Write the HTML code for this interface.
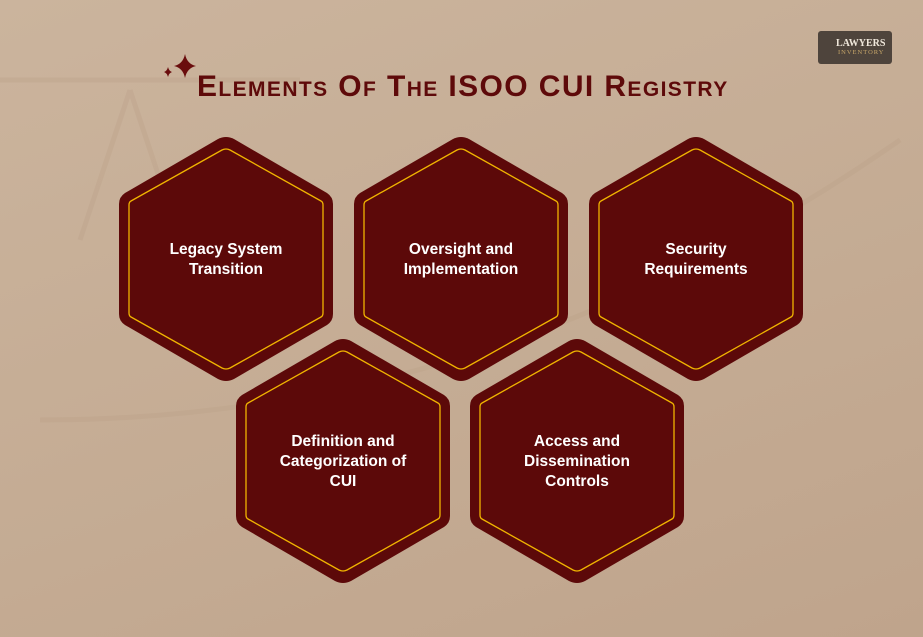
<!DOCTYPE html>
<html><head><meta charset="utf-8"><style>
html,body{margin:0;padding:0}
body{width:923px;height:637px;overflow:hidden;position:relative;background:linear-gradient(160deg,#cbb49d 0%,#c4ab93 60%,#bfa48c 100%);font-family:"Liberation Sans",sans-serif}
.title{position:absolute;left:197px;top:70px;font-size:30px;font-weight:bold;color:#5e0a0a;font-variant:small-caps;letter-spacing:1.4px;white-space:nowrap}
.logo{position:absolute;left:818px;top:31px;width:74px;height:33px;background:#4e443c;border-radius:3px;color:#f0e8dc;font-family:"Liberation Serif",serif}
.logo .a{position:absolute;left:18px;top:7px;font-size:10px;font-weight:bold}
.logo .b{position:absolute;left:20px;top:18px;font-size:6.5px;letter-spacing:1px;color:#c9a86a}
.lbl{position:absolute;width:180px;text-align:center;color:#fff;font-weight:bold;font-size:15.5px;line-height:20px}
</style></head><body>
<svg width="923" height="637" style="position:absolute;left:0;top:0">
<g fill="none" stroke="#b99e86" stroke-width="5" opacity="0.3">
<path d="M0 80 L300 80"/><path d="M130 90 L80 240 M130 90 L180 240"/>
<path d="M40 420 Q500 420 900 140"/>
</g>
<path d="M185 54 Q187 64 196 66 Q187 68 185 78 Q183 68 174 66 Q183 64 185 54Z" fill="#6a0d0d"/>
<path d="M168 67 Q169 71 172 72 Q169 73 168 77 Q167 73 164 72 Q167 71 168 67Z" fill="#6a0d0d"/>
<defs>
<g id="h">
<path d="M-8 -120 Q0 -124 8 -120 L101 -66 Q107 -62 107 -55 L107 55 Q107 62 101 66 L8 120 Q0 124 -8 120 L-101 66 Q-107 62 -107 55 L-107 -55 Q-107 -62 -101 -66 Z" fill="#5c0909"/>
<path d="M-4 -109 Q0 -111 4 -109 L95 -58 Q97 -57 97 -54 L97 54 Q97 57 95 58 L4 109 Q0 111 -4 109 L-95 58 Q-97 57 -97 54 L-97 -54 Q-97 -57 -95 -58 Z" fill="none" stroke="#f0b400" stroke-width="1.3"/>
</g></defs>
<use href="#h" x="226" y="259"/>
<use href="#h" x="461" y="259"/>
<use href="#h" x="696" y="259"/>
<use href="#h" x="343" y="461"/>
<use href="#h" x="577" y="461"/>
</svg>
<div class="title">Elements Of The ISOO CUI Registry</div>
<div class="logo"><span class="a">LAWYERS</span><span class="b">INVENTORY</span></div>
<div class="lbl" style="left:136px;top:240px">Legacy System<br>Transition</div>
<div class="lbl" style="left:371px;top:240px">Oversight and<br>Implementation</div>
<div class="lbl" style="left:606px;top:240px">Security<br>Requirements</div>
<div class="lbl" style="left:253px;top:432px">Definition and<br>Categorization of<br>CUI</div>
<div class="lbl" style="left:487px;top:432px">Access and<br>Dissemination<br>Controls</div>
</body></html>
